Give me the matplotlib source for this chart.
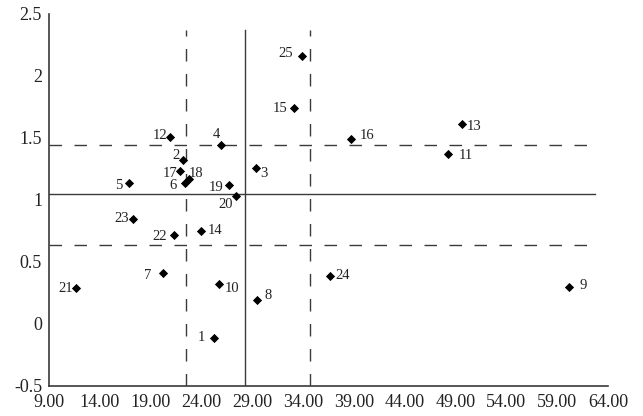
#!/usr/bin/env python3

import matplotlib
matplotlib.use("Agg")
import matplotlib.pyplot as plt

# Point ids and their positions.
ids = ["1", "2", "3", "4", "5", "6", "7", "8", "9", "10", "11", "12", "13",
       "14", "15", "16", "17", "18", "19", "20", "21", "22", "23", "24", "25"]
x_vals = [25.2, 22.2, 29.4, 25.9, 16.9, 22.4, 20.2, 29.5, 60.2, 25.7, 48.3, 20.9, 49.6,
          24.0, 33.1, 38.7, 21.9, 22.8, 26.7, 27.4, 11.7, 21.3, 17.3, 36.6, 33.9]
y_vals = [-0.11, 1.32, 1.26, 1.44, 1.14, 1.14, 0.41, 0.19, 0.30, 0.32, 1.37, 1.51, 1.61,
          0.75, 1.74, 1.49, 1.23, 1.17, 1.12, 1.03, 0.29, 0.72, 0.85, 0.39, 2.16]

# Mean lines (solid) and mean +/- SD lines (dashed).
x_mean = 28.3
x_bands = [22.5, 34.7]
y_mean = 1.05
y_bands = [0.64, 1.44]

x_ticks = [9, 14, 19, 24, 29, 34, 39, 44, 49, 54, 59, 64]
y_ticks = [-0.5, 0, 0.5, 1, 1.5, 2, 2.5]
y_tick_labels = ["-0.5", "0", "0.5", "1", "1.5", "2", "2.5"]

# Label offsets in pixels (dx, dy) from each marker.
label_offsets = {
    "1": (-12, 0), "2": (-7, 5), "3": (8, -6), "4": (-4, 11), "5": (-11, -3),
    "6": (-12, -3), "7": (-15, -2), "8": (11, 5), "9": (14, 1), "10": (13, -4),
    "11": (17, -1), "12": (-10, 1), "13": (12, -2), "14": (14, 1), "15": (-14, 0),
    "16": (16, 4), "17": (-10, -2), "18": (7, 5), "19": (-13, -2), "20": (-10, -8),
    "21": (-11, 0), "22": (-14, -2), "23": (-12, 0), "24": (13, 0), "25": (-16, 3),
}

plt.rcParams['font.family'] = ['Liberation Serif', 'DejaVu Serif']
line_col = "#3a3a3a"

fig = plt.figure(figsize=(6.43, 4.16), dpi=100)
ax = fig.add_axes([49 / 643, 30 / 416, 559 / 643, 372 / 416])
ax.set_xlim(9, 64)
ax.set_ylim(-0.5, 2.5)

# Reference lines
line_top = 2.37
line_right = 62.7
ax.plot([x_mean, x_mean], [-0.5, line_top], color=line_col, lw=1.0)
for xb in x_bands:
    ax.plot([xb, xb], [-0.5, line_top], color=line_col, lw=1.0, linestyle=(0, (9, 9)))
ax.plot([9, line_right], [y_mean, y_mean], color=line_col, lw=1.0)
for yb in y_bands:
    ax.plot([9, line_right], [yb, yb], color=line_col, lw=1.0, linestyle=(0, (9, 9)))

ax.scatter(x_vals, y_vals, marker="D", s=22, color="black", zorder=3, linewidths=0)

for name, xv, yv in zip(ids, x_vals, y_vals):
    dx, dy = label_offsets[name]
    ax.annotate(name, (xv, yv), xytext=(dx, dy), textcoords="offset pixels",
                ha="center", va="center", fontsize=10.5, color="#222222")

ax.set_xticks(x_ticks)
ax.set_xticklabels([f"{t:.2f}" for t in x_ticks])
ax.set_yticks(y_ticks)
ax.set_yticklabels(y_tick_labels)
ax.tick_params(length=0, labelsize=13, colors="#222222")
ax.tick_params(axis="x", pad=6)
ax.tick_params(axis="y", pad=5)

for side in ["top", "right"]:
    ax.spines[side].set_visible(False)
for side in ["left", "bottom"]:
    ax.spines[side].set_color(line_col)
    ax.spines[side].set_linewidth(1.2)

fig.savefig("out.png", dpi=100)
